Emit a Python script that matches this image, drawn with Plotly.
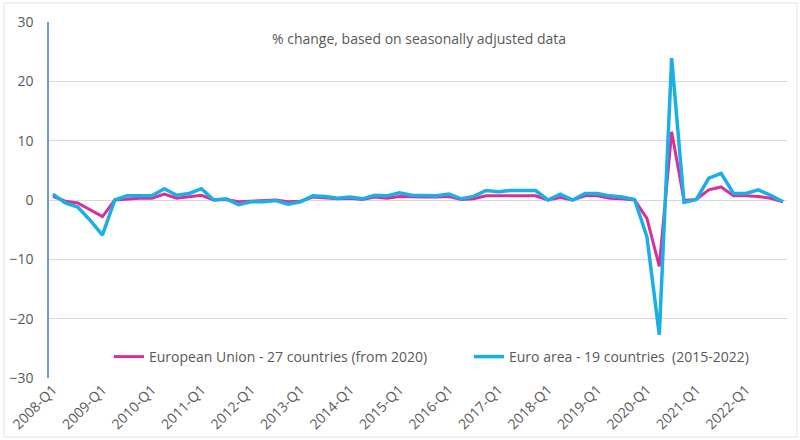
import plotly.graph_objects as go

quarters = [f"{y}-Q{q}" for y in range(2008, 2023) for q in range(1, 5)]

eu_values = [0.6, -0.2, -0.5, -1.7, -2.8, 0.0, 0.2, 0.3, 0.3, 1.0,
             0.3, 0.5, 0.8, 0.0, 0.1, -0.3, -0.2, -0.1, 0.0, -0.3,
             -0.2, 0.5, 0.3, 0.2, 0.3, 0.1, 0.5, 0.3, 0.6, 0.5,
             0.5, 0.5, 0.6, 0.1, 0.2, 0.7, 0.7, 0.7, 0.7, 0.7,
             0.0, 0.4, 0.0, 0.7, 0.7, 0.3, 0.2, 0.0, -3.1, -11.2,
             11.5, -0.1, 0.1, 1.7, 2.2, 0.7, 0.7, 0.6, 0.3, -0.3]

ea_values = [1.0, -0.5, -1.2, -3.4, -5.9, 0.0, 0.7, 0.7, 0.7, 1.9,
             0.8, 1.1, 1.9, 0.0, 0.2, -0.8, -0.3, -0.3, -0.1, -0.7,
             -0.3, 0.7, 0.6, 0.3, 0.5, 0.2, 0.8, 0.7, 1.2, 0.8,
             0.7, 0.7, 1.0, 0.2, 0.6, 1.6, 1.4, 1.6, 1.6, 1.6,
             0.0, 1.0, 0.0, 1.1, 1.1, 0.7, 0.5, 0.1, -6.2, -22.7,
             23.9, -0.4, 0.1, 3.7, 4.5, 1.1, 1.1, 1.7, 0.8, -0.3]

tick_labels = [q for q in quarters if q.endswith("Q1")]
y_ticks = [-30, -20, -10, 0, 10, 20, 30]

series_names = ["European Union - 27 countries (from 2020)",
                "Euro area - 19 countries  (2015-2022)"]

FONT = "Open Sans"
GREY = "#595959"

L, R, T, B = 49, 13, 22, 62
W, H = 800, 440
pw = W - L - R
ph = H - T - B

def px_x(p):
    return (p - L) / pw

def px_y(p):
    return (H - B - p) / ph

fig = go.Figure()
fig.add_trace(go.Scatter(x=quarters, y=eu_values, mode="lines", name=series_names[0],
                         line=dict(color="#D8309A", width=3), legend="legend"))
fig.add_trace(go.Scatter(x=quarters, y=ea_values, mode="lines", name=series_names[1],
                         line=dict(color="#1AAFE6", width=3.5), legend="legend2"))

legend_common = dict(orientation="h", xanchor="left", yanchor="middle",
                     bgcolor="rgba(0,0,0,0)",
                     font=dict(family=FONT, size=14, color=GREY))

fig.update_layout(
    width=W, height=H,
    margin=dict(l=L, r=R, t=T, b=B, autoexpand=False),
    paper_bgcolor="white", plot_bgcolor="white",
    font=dict(family=FONT, size=14, color=GREY),
    showlegend=True,
    legend=dict(x=px_x(109), y=px_y(357), **legend_common),
    legend2=dict(x=px_x(469), y=px_y(357), **legend_common),
    xaxis=dict(type="category", categoryorder="array", categoryarray=quarters,
               range=[-0.32, len(quarters) - 1 + 0.32], automargin=False,
               tickmode="array", tickvals=tick_labels, ticktext=tick_labels,
               tickangle=-45, showgrid=False, showline=False, zeroline=False,
               ticks="", tickfont=dict(family=FONT, size=14, color=GREY)),
    yaxis=dict(range=[-30, 30], tickvals=y_ticks, showgrid=True, gridcolor="#D9D9D9",
               gridwidth=1, zeroline=True, zerolinecolor="#D9D9D9", zerolinewidth=1,
               showline=True, linecolor="#6A9BDB", linewidth=1.5, automargin=False,
               ticks="", ticklabelstandoff=11,
               tickfont=dict(family=FONT, size=14, color=GREY)),
    annotations=[dict(text="% change, based on seasonally adjusted data",
                      xref="paper", yref="paper", x=px_x(419), y=px_y(38),
                      xanchor="center", yanchor="middle", showarrow=False,
                      font=dict(family=FONT, size=14, color=GREY))],
    shapes=[dict(type="rect", xref="paper", yref="paper",
                 x0=px_x(4), x1=px_x(797), y0=px_y(437), y1=px_y(3),
                 line=dict(color="#E3E3E3", width=1), layer="below")],
)

fig.write_html("out.html")
